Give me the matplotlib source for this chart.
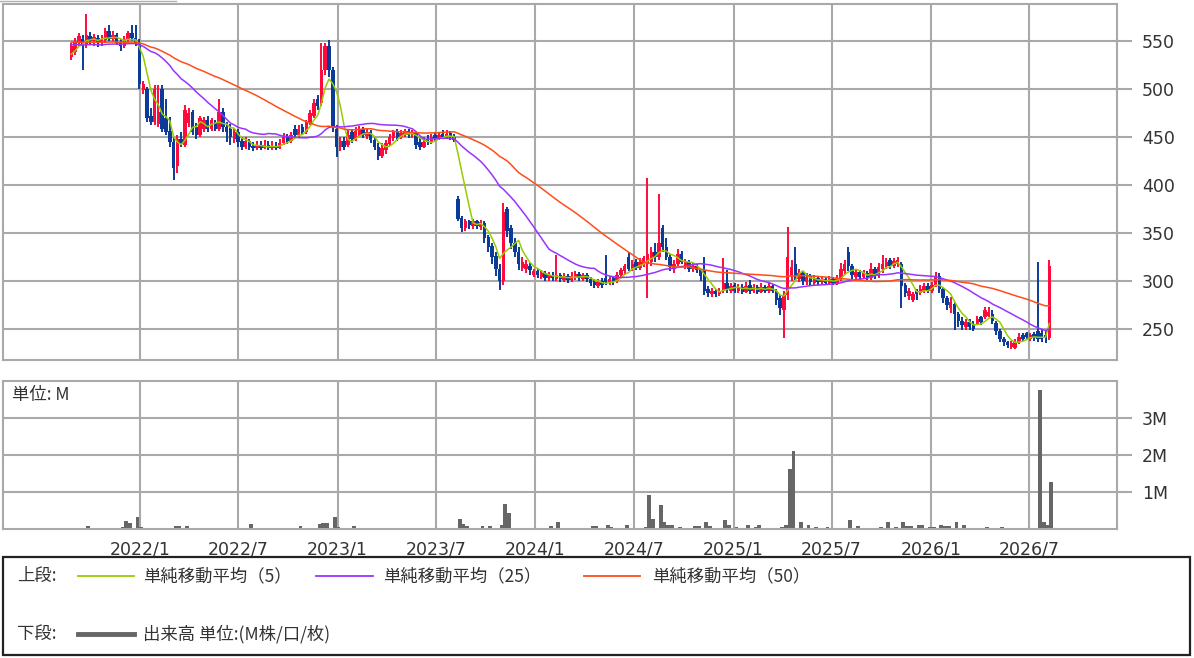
import numpy as np
import pandas as pd
import matplotlib
matplotlib.use('Agg')
import matplotlib.pyplot as plt
import matplotlib.dates as mdates
from matplotlib.lines import Line2D
from matplotlib.patches import Rectangle

plt.rcParams['font.family'] = ['Noto Sans CJK JP', 'DejaVu Sans']

# weekly candles, first week 2021-08-27
start_date = '2021-08-27'

# closes before the first drawn week (only feed the moving averages)
history_closes = [
    548, 552, 550, 555, 553, 549, 551, 556, 552, 548, 550, 554, 557,
    553, 549, 547, 551, 555, 552, 550, 546, 549, 553, 556, 551, 548,
    552, 554, 550, 547, 551, 555, 553, 549, 546, 550, 552, 548, 545,
    549, 551, 547, 544, 540, 536, 533, 531, 534, 538,
]

opens = [
    533, 538, 548, 552, 546, 555, 550, 553, 548, 551, 560, 552, 556,
    548, 545, 552, 558, 553, 548, 499, 500, 472, 466, 464, 500, 470,
    456, 445, 420, 448, 442, 465, 476, 460, 452, 458, 468, 458, 466,
    458, 476, 460, 458, 448, 455, 446, 440, 446, 441, 438, 442, 439,
    442, 438, 441, 439, 444, 450, 446, 458, 452, 460, 455, 465, 472,
    490, 485, 520, 545, 520, 458, 440, 446, 442, 455, 448, 452, 458,
    451, 455, 447, 440, 430, 436, 443, 449, 456, 450, 452, 456, 452,
    454, 445, 440, 448, 445, 452, 449, 453, 450, 454, 450, 385, 366,
    355, 362, 357, 362, 356, 360, 346, 336, 326, 312, 300, 375, 355,
    340, 330, 314, 312, 316, 306, 310, 304, 308, 303, 306, 302, 306,
    301, 305, 301, 304, 307, 302, 306, 302, 299, 295, 300, 303, 298,
    303, 300, 306, 310, 325, 312, 320, 314, 318, 318, 320, 330, 325,
    355, 335, 325, 312, 318, 328, 315, 320, 312, 316, 311, 310, 292,
    286, 290, 286, 290, 298, 290, 296, 290, 294, 289, 296, 290, 294,
    289, 294, 290, 295, 290, 282, 270, 285, 305, 318, 302, 308, 299,
    305, 298, 303, 299, 302, 298, 302, 298, 302, 310, 330, 316, 304,
    309, 304, 308, 303, 312, 305, 312, 316, 322, 316, 318, 318, 296,
    284, 280, 290, 287, 290, 295, 290, 296, 305, 292, 282, 272, 276,
    266, 258, 252, 257, 255, 255, 262, 262, 264, 266, 256, 248, 240,
    236, 231, 230, 236, 244, 246, 240, 245, 248, 246, 244, 241,
]
highs = [
    548, 553, 558, 556, 578, 559, 557, 556, 556, 563, 567, 560, 558,
    552, 555, 560, 567, 567, 552, 508, 502, 480, 504, 504, 504, 490,
    471, 450, 452, 455, 483, 480, 478, 465, 472, 471, 472, 470, 468,
    490, 480, 466, 463, 458, 458, 450, 450, 448, 445, 446, 446, 447,
    446, 446, 445, 448, 454, 453, 455, 462, 462, 464, 468, 478, 490,
    494, 548, 548, 551, 523, 462, 450, 450, 457, 458, 460, 461, 460,
    458, 457, 450, 444, 444, 447, 453, 457, 458, 457, 458, 458, 457,
    455, 450, 450, 452, 453, 455, 454, 457, 457, 456, 453, 388, 368,
    365, 364, 365, 364, 364, 362, 348, 340, 330, 318, 381, 377, 358,
    345, 335, 325, 322, 319, 313, 312, 311, 310, 309, 309, 327, 308,
    308, 307, 309, 310, 309, 308, 308, 304, 302, 302, 303, 327, 305,
    305, 309, 314, 318, 330, 322, 323, 324, 326, 407, 335, 340, 391,
    358, 345, 328, 322, 333, 331, 323, 322, 319, 318, 313, 325, 295,
    293, 292, 293, 324, 311, 298, 298, 297, 297, 299, 301, 297, 296,
    298, 296, 298, 297, 292, 285, 290, 356, 322, 335, 312, 310, 308,
    307, 306, 305, 305, 304, 305, 304, 306, 319, 322, 335, 318, 311,
    311, 311, 310, 319, 315, 319, 327, 324, 324, 324, 325, 320, 298,
    293, 289, 292, 296, 298, 298, 299, 309, 308, 294, 284, 283, 278,
    268, 262, 260, 260, 258, 264, 264, 273, 273, 270, 258, 250, 242,
    238, 238, 240, 246, 246, 247, 246, 247, 320, 250, 248, 322,
]
lows = [
    530, 535, 545, 520, 543, 546, 545, 544, 545, 548, 550, 549, 546,
    540, 543, 549, 550, 545, 500, 495, 466, 462, 462, 460, 455, 452,
    440, 405, 412, 440, 440, 460, 452, 448, 450, 455, 455, 456, 456,
    456, 455, 445, 442, 444, 440, 436, 437, 436, 435, 436, 436, 437,
    436, 436, 436, 437, 442, 443, 444, 450, 450, 452, 453, 462, 470,
    478, 482, 515, 512, 455, 429, 435, 436, 440, 444, 446, 450, 449,
    448, 444, 436, 426, 428, 432, 441, 446, 446, 448, 450, 449, 449,
    437, 436, 438, 442, 443, 446, 447, 448, 448, 447, 445, 362, 351,
    352, 354, 354, 354, 353, 340, 330, 318, 305, 291, 296, 346, 333,
    325, 311, 310, 308, 306, 304, 303, 302, 300, 300, 300, 300, 299,
    299, 298, 299, 301, 300, 300, 299, 295, 293, 293, 293, 296, 296,
    296, 298, 304, 307, 310, 310, 311, 311, 315, 282, 316, 320, 322,
    330, 322, 310, 308, 316, 318, 312, 309, 309, 308, 300, 285, 283,
    283, 283, 284, 287, 288, 287, 287, 287, 286, 287, 286, 287, 286,
    287, 287, 288, 287, 275, 265, 241, 280, 300, 301, 299, 296, 296,
    295, 296, 296, 297, 296, 296, 296, 296, 300, 306, 310, 302, 301,
    301, 302, 301, 301, 302, 303, 308, 313, 313, 314, 315, 272, 283,
    280, 278, 280, 285, 287, 287, 288, 294, 288, 277, 270, 267, 249,
    252, 249, 249, 249, 248, 254, 254, 260, 262, 255, 244, 236, 232,
    230, 229, 229, 234, 237, 239, 237, 237, 236, 236, 235, 239,
]
closes = [
    545, 550, 555, 545, 556, 550, 554, 548, 552, 560, 552, 556, 548,
    545, 552, 558, 553, 548, 505, 505, 470, 466, 500, 476, 458, 455,
    445, 418, 448, 444, 478, 475, 455, 452, 470, 468, 458, 468, 458,
    476, 460, 455, 450, 455, 445, 440, 446, 440, 438, 442, 439, 442,
    438, 441, 439, 444, 450, 446, 452, 452, 458, 455, 465, 475, 485,
    482, 520, 545, 520, 460, 440, 446, 440, 452, 448, 456, 458, 452,
    455, 447, 440, 430, 438, 444, 450, 455, 450, 454, 456, 452, 455,
    442, 440, 445, 445, 450, 449, 452, 450, 453, 450, 447, 365, 355,
    362, 358, 362, 357, 361, 345, 335, 325, 312, 300, 372, 352, 340,
    330, 318, 320, 318, 311, 310, 306, 308, 303, 306, 303, 306, 302,
    305, 301, 305, 307, 303, 306, 302, 298, 296, 299, 296, 299, 302,
    299, 306, 311, 316, 312, 318, 314, 320, 324, 328, 330, 325, 340,
    335, 325, 315, 318, 328, 320, 320, 312, 316, 311, 305, 290, 287,
    290, 286, 290, 298, 292, 295, 290, 294, 289, 295, 290, 294, 289,
    294, 290, 295, 290, 280, 272, 285, 325, 315, 305, 308, 300, 304,
    299, 303, 299, 302, 298, 302, 298, 303, 312, 318, 316, 306, 309,
    304, 308, 303, 312, 305, 315, 318, 320, 316, 321, 322, 295, 288,
    290, 286, 286, 292, 295, 290, 296, 305, 292, 282, 275, 278, 266,
    258, 254, 257, 252, 250, 260, 257, 270, 268, 258, 248, 240, 236,
    233, 235, 236, 242, 240, 242, 244, 241, 240, 240, 241, 316,
]
# weekly volume, millions
volumes = [
    0.01, 0.01, 0.01, 0.01, 0.07, 0.01, 0.01, 0.01, 0.01, 0.01, 0.01, 0.01, 0.01,
    0.05, 0.22, 0.16, 0.01, 0.32, 0.05, 0.01, 0.01, 0.01, 0.01, 0.01, 0.01, 0.01,
    0.01, 0.07, 0.07, 0.01, 0.07, 0.01, 0.01, 0.01, 0.01, 0.01, 0.01, 0.01, 0.01,
    0.01, 0.01, 0.01, 0.01, 0.01, 0.01, 0.01, 0.01, 0.13, 0.01, 0.01, 0.01, 0.01,
    0.01, 0.01, 0.01, 0.01, 0.01, 0.01, 0.01, 0.01, 0.07, 0.01, 0.01, 0.01, 0.01,
    0.13, 0.17, 0.15, 0.01, 0.32, 0.05, 0.01, 0.01, 0.01, 0.07, 0.01, 0.01, 0.01,
    0.01, 0.01, 0.01, 0.01, 0.01, 0.01, 0.01, 0.01, 0.01, 0.01, 0.01, 0.01, 0.01,
    0.01, 0.01, 0.01, 0.01, 0.01, 0.01, 0.01, 0.01, 0.01, 0.01, 0.01, 0.27, 0.14,
    0.07, 0.01, 0.01, 0.01, 0.07, 0.01, 0.07, 0.01, 0.01, 0.10, 0.68, 0.43, 0.03,
    0.03, 0.03, 0.03, 0.03, 0.03, 0.01, 0.01, 0.01, 0.01, 0.07, 0.01, 0.18, 0.01,
    0.01, 0.01, 0.01, 0.01, 0.01, 0.01, 0.01, 0.07, 0.07, 0.01, 0.01, 0.12, 0.05,
    0.01, 0.01, 0.01, 0.11, 0.01, 0.01, 0.01, 0.01, 0.06, 0.91, 0.27, 0.01, 0.65,
    0.18, 0.12, 0.12, 0.01, 0.05, 0.01, 0.01, 0.01, 0.07, 0.07, 0.01, 0.18, 0.08,
    0.01, 0.01, 0.01, 0.24, 0.12, 0.01, 0.05, 0.01, 0.01, 0.10, 0.01, 0.05, 0.12,
    0.01, 0.01, 0.01, 0.01, 0.01, 0.05, 0.10, 1.63, 2.11, 0.02, 0.18, 0.01, 0.12,
    0.01, 0.06, 0.01, 0.01, 0.05, 0.01, 0.01, 0.01, 0.01, 0.01, 0.24, 0.01, 0.07,
    0.01, 0.01, 0.01, 0.01, 0.01, 0.06, 0.01, 0.18, 0.01, 0.05, 0.01, 0.18, 0.07,
    0.07, 0.01, 0.12, 0.12, 0.01, 0.05, 0.05, 0.01, 0.12, 0.07, 0.07, 0.01, 0.18,
    0.01, 0.12, 0.01, 0.01, 0.01, 0.01, 0.01, 0.05, 0.01, 0.01, 0.01, 0.05, 0.01,
    0.01, 0.01, 0.01, 0.01, 0.01, 0.02, 0.01, 0.01, 3.75, 0.18, 0.10, 1.26,
]

tick_dates = ['2022-01-01', '2022-07-01', '2023-01-01', '2023-07-01', '2024-01-01',
              '2024-07-01', '2025-01-01', '2025-07-01', '2026-01-01', '2026-07-01']
tick_labels = ['2022/1', '2022/7', '2023/1', '2023/7', '2024/1',
               '2024/7', '2025/1', '2025/7', '2026/1', '2026/7']
price_ticks = [250, 300, 350, 400, 450, 500, 550]
vol_ticks = [1, 2, 3]
vol_tick_labels = ['1M', '2M', '3M']
ma_periods = [5, 25, 50]
ma_labels = ['単純移動平均（5）', '単純移動平均（25）', '単純移動平均（50）']

RED = '#ff0a3c'
BLUE = '#0b3b98'
MA_COLORS = ['#99cc00', '#9933ff', '#ff4d1a']
GRID = '#a9a9a9'
TXT = '#333333'
VOLC = '#666666'

dates = pd.date_range(start_date, periods=len(closes), freq='7D')
x = mdates.date2num(dates)
o = np.array(opens, float)
c = np.array(closes, float)
hi = np.maximum(np.array(highs, float), np.maximum(o, c))
lo = np.minimum(np.array(lows, float), np.minimum(o, c))
col = np.where(c >= o, RED, BLUE)

W, H = 1194, 658
fig = plt.figure(figsize=(W / 100, H / 100), dpi=100)
ax1 = fig.add_axes([3 / W, 1 - 360 / H, 1114 / W, 356 / H])
ax2 = fig.add_axes([3 / W, 1 - 529 / H, 1114 / W, 148 / H], sharex=ax1)

# candles
ax1.vlines(x, lo, hi, colors=col, lw=1.4, zorder=2)
ax1.bar(x, np.maximum(np.abs(c - o), 1.5), bottom=np.minimum(o, c),
        width=6.4, color=col, linewidth=0, zorder=2)

# moving averages (history in front so the lines start already settled)
full = pd.Series(history_closes + closes, dtype=float)
nh = len(history_closes)
for p, mc in zip(ma_periods, MA_COLORS):
    ma = full.rolling(p, min_periods=1).mean().to_numpy()[nh:]
    ax1.plot(x, ma, color=mc, lw=1.1, zorder=3)

# volume
ax2.bar(x, volumes, width=7, align='edge', color=VOLC, linewidth=0, zorder=2)

xt = mdates.date2num(pd.to_datetime(tick_dates))
ax1.set_xlim(mdates.date2num(pd.Timestamp('2021-04-23')),
             mdates.date2num(pd.Timestamp('2026-12-10')))
ax1.set_ylim(217.7, 588.5)
ax2.set_ylim(0, 4.0)

for ax in (ax1, ax2):
    ax.set_axisbelow(True)
    ax.grid(True, color=GRID, lw=1.5)
    for s in ax.spines.values():
        s.set_color(GRID)
        s.set_linewidth(1.5)
    ax.yaxis.tick_right()
    ax.tick_params(axis='y', length=11, width=1.5, color=GRID, pad=7,
                   labelsize=12.5, labelcolor=TXT)
    ax.set_xticks(xt)

ax1.set_yticks(price_ticks)
ax1.tick_params(axis='x', length=0, labelbottom=False)
ax2.set_yticks(vol_ticks)
ax2.set_yticklabels(vol_tick_labels)
ax2.set_xticks(xt)
ax2.set_xticklabels(tick_labels)
ax2.tick_params(axis='x', length=0, pad=8, labelsize=12.5, labelcolor=TXT)

for lab in ax1.get_yticklabels() + ax2.get_yticklabels() + ax2.get_xticklabels():
    lab.set_fontfamily('DejaVu Sans')

fig.text(12 / W, 1 - 395 / H, '単位: M', fontsize=12.5, color=TXT, va='center')

# legend box
fig.patches.append(Rectangle((3 / W, 3 / H), 1187 / W, 98 / H, transform=fig.transFigure,
                             fill=False, edgecolor='#222222', lw=1.6))
r1 = 1 - 576 / H
r2 = 1 - 634 / H
fs = 12.5
fig.text(17 / W, r1, '上段:', fontsize=fs, color=TXT, va='center')
line_x = [(78, 134), (316, 373), (584, 640)]
text_x = [143, 383, 652]
for (a, b), tx, mc, lab in zip(line_x, text_x, MA_COLORS, ma_labels):
    fig.add_artist(Line2D([a / W, b / W], [r1, r1], color=mc, lw=1.3))
    fig.text(tx / W, r1, lab, fontsize=fs, color=TXT, va='center')
fig.text(17 / W, r2, '下段:', fontsize=fs, color=TXT, va='center')
fig.add_artist(Line2D([78 / W, 134 / W], [r2, r2], color=VOLC, lw=3.5))
fig.text(143 / W, r2, '出来高 単位:(M株/口/枚)', fontsize=fs, color=TXT, va='center')

# tab edge at top-left
fig.add_artist(Line2D([0, 176 / W], [1 - 1 / H, 1 - 1 / H], color='#b0b0b0', lw=1))

fig.savefig('out.png', dpi=100)
